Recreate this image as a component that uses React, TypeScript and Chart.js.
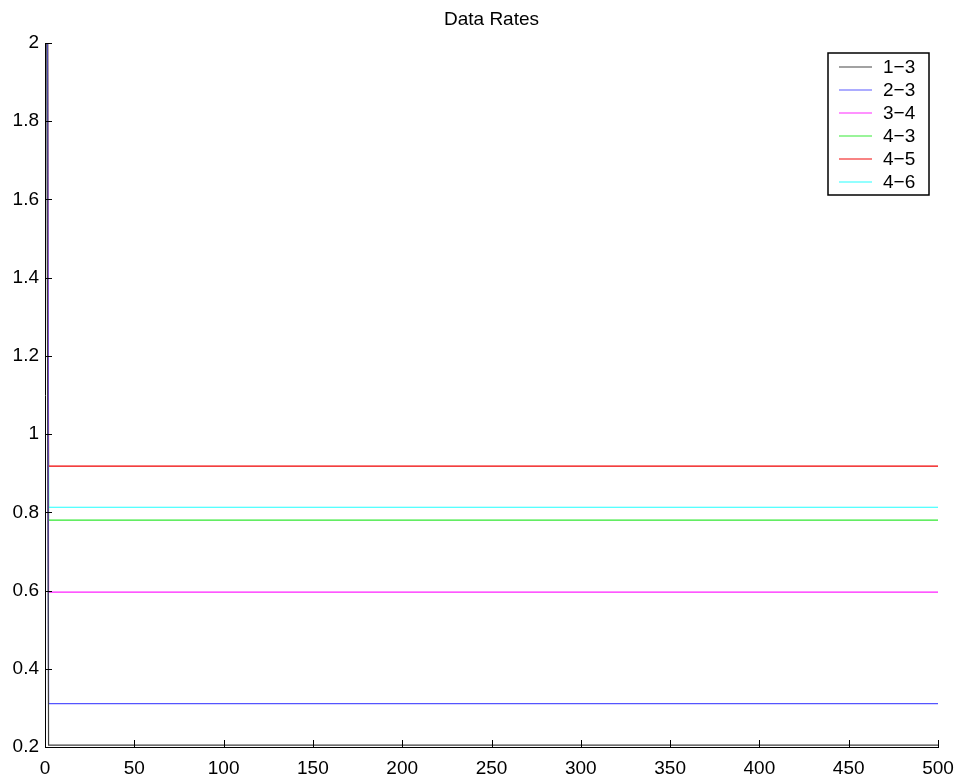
import React, { useEffect, useRef } from "react";
import { Chart, registerables } from "chart.js";

Chart.register(...registerables);

// Sample times (x axis)
const times = [1, 2, 500];

// Link labels and their rate series
const linkLabels = ["1−3", "2−3", "3−4", "4−3", "4−5", "4−6"];
const rate13 = [2.0, 0.205, 0.205];
const rate23 = [3.0, 0.311, 0.311];
const rate34 = [3.0, 0.596, 0.596];
const rate43 = [3.0, 0.78, 0.78];
const rate45 = [3.0, 0.918, 0.918];
const rate46 = [3.0, 0.813, 0.813];

const xTicks = [0, 50, 100, 150, 200, 250, 300, 350, 400, 450, 500];
const yTicks = [0.2, 0.4, 0.6, 0.8, 1.0, 1.2, 1.4, 1.6, 1.8, 2.0];

const titleText = "Data Rates";
const lineColors = ["#404040", "#5555ff", "#ff20ff", "#30e830", "#f00000", "#20ffff"];
const FONT = '"Liberation Sans", Arial, Helvetica, sans-serif';

const allRates = [rate13, rate23, rate34, rate43, rate45, rate46];

// Inward tick marks, title and a boxed legend in the upper right corner
const decorations = {
  id: "decorations",
  afterDraw(chart: any) {
    const { ctx, chartArea, scales } = chart;
    const xs = scales.x;
    const ys = scales.y;
    ctx.save();
    ctx.strokeStyle = "#000";
    ctx.lineWidth = 1;
    const tickLen = 7;
    ctx.beginPath();
    xTicks.forEach((v) => {
      const px = Math.round(xs.getPixelForValue(v)) + 0.5;
      ctx.moveTo(px, chartArea.bottom);
      ctx.lineTo(px, chartArea.bottom - tickLen);
    });
    yTicks.forEach((v) => {
      const py = Math.round(ys.getPixelForValue(v)) + 0.5;
      ctx.moveTo(chartArea.left, py);
      ctx.lineTo(chartArea.left + tickLen, py);
    });
    ctx.stroke();

    // title
    ctx.fillStyle = "#000";
    ctx.font = `19px ${FONT}`;
    ctx.textAlign = "center";
    ctx.textBaseline = "middle";
    ctx.fillText(titleText, (chartArea.left + chartArea.right) / 2, 20);

    // legend
    const boxRight = chartArea.right - 9;
    const boxLeft = boxRight - 101;
    const boxTop = chartArea.top + 10;
    const rowH = 23;
    const boxH = 142;
    ctx.fillStyle = "#fff";
    ctx.fillRect(boxLeft, boxTop, boxRight - boxLeft, boxH);
    ctx.strokeStyle = "#000";
    ctx.lineWidth = 1.5;
    ctx.strokeRect(boxLeft, boxTop, boxRight - boxLeft, boxH);
    ctx.textAlign = "left";
    ctx.textBaseline = "middle";
    chart.data.datasets.forEach((ds: any, i: number) => {
      const cy = boxTop + 14 + i * rowH;
      ctx.strokeStyle = ds.borderColor;
      ctx.globalAlpha = 0.65;
      ctx.lineWidth = 1.5;
      ctx.beginPath();
      ctx.moveTo(boxLeft + 11, cy);
      ctx.lineTo(boxLeft + 44, cy);
      ctx.stroke();
      ctx.globalAlpha = 1;
      ctx.fillStyle = "#000";
      ctx.fillText(ds.label, boxLeft + 55, cy + 1);
    });
    ctx.restore();
  },
};

export default function App() {
  const canvasRef = useRef<HTMLCanvasElement | null>(null);

  useEffect(() => {
    if (!canvasRef.current) return;
    const datasets = linkLabels.map((label, i) => ({
      label,
      data: times.map((t, j) => ({ x: t, y: allRates[i][j] })),
      borderColor: lineColors[i],
      backgroundColor: lineColors[i],
      borderWidth: 1.2,
      pointRadius: 0,
      fill: false,
      tension: 0,
    }));

    const chart = new Chart(canvasRef.current, {
      type: "line",
      data: { datasets },
      options: {
        responsive: false,
        animation: false,
        devicePixelRatio: 1,
        layout: { padding: { top: 43, right: 22, left: 0, bottom: 0 } },
        plugins: {
          legend: { display: false },
          title: { display: false },
          tooltip: { enabled: false },
        },
        scales: {
          x: {
            type: "linear",
            min: 0,
            max: 500,
            afterBuildTicks: (scale: any) => {
              scale.ticks = xTicks.map((v) => ({ value: v }));
            },
            afterFit: (scale: any) => {
              scale.height = 31;
              scale.paddingLeft = 0;
              scale.paddingRight = 0;
            },
            grid: { display: false, drawTicks: false },
            border: { display: true, color: "#000", width: 1 },
            ticks: {
              autoSkip: false,
              maxRotation: 0,
              padding: 10,
              color: "#000",
              font: { family: FONT, size: 19 },
              callback: (v: any) => String(v),
            },
          },
          y: {
            type: "linear",
            min: 0.2,
            max: 2,
            afterBuildTicks: (scale: any) => {
              scale.ticks = yTicks.map((v) => ({ value: v }));
            },
            afterFit: (scale: any) => {
              scale.width = 45;
              scale.paddingTop = 0;
              scale.paddingBottom = 0;
            },
            grid: { display: false, drawTicks: false },
            border: { display: true, color: "#000", width: 1 },
            ticks: {
              autoSkip: false,
              padding: 6,
              color: "#000",
              font: { family: FONT, size: 19 },
              callback: (v: any) => String(Number(Number(v).toFixed(1))),
            },
          },
        },
      },
      plugins: [decorations],
    });
    return () => chart.destroy();
  }, []);

  return (
    <div style={{ position: "fixed", left: 0, top: 0, width: 960, height: 778, background: "#fff" }}>
      <canvas ref={canvasRef} width={960} height={778} />
    </div>
  );
}
